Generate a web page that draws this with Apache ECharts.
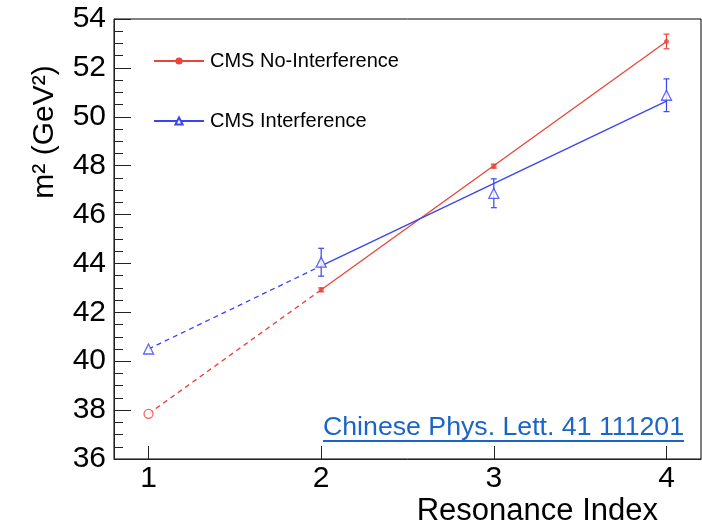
<!DOCTYPE html>
<html><head><meta charset="utf-8">
<script src="https://cdn.jsdelivr.net/npm/echarts@6/dist/echarts.min.js"></script>
<style>html,body{margin:0;padding:0;background:#fff}#c{width:702px;height:530px}</style>
</head><body><div id="c"></div>
<script>
// ---- data ----
const xTickValues = [1, 2, 3, 4];
const seriesNames = ['CMS No-Interference', 'CMS Interference'];
// measured points: [index, m^2, error]
const noIntPoints = [[2, 42.92, 0.08], [3, 47.98, 0.08], [4, 53.08, 0.30]];
const intPoints = [[2, 44.05, 0.57], [3, 46.87, 0.59], [4, 50.88, 0.67]];
// linear fits (solid) and extrapolations (dashed)
const noIntFit = [[2, 42.92], [4, 53.08]];
const noIntExtrap = [[1, 37.85], [2, 42.92]];
const intFit = [[2, 43.90], [4, 50.64]];
const intExtrap = [[1, 40.50], [2, 43.90]];
// predicted first resonance
const noIntPred = [[1, 37.85]];
const intPred = [[1, 40.50]];

const RED = '#ea4438';
const BLUE = '#3a44f0';
const FONT = '"Liberation Sans", Arial, Helvetica, sans-serif';

function errRender(color) {
  return function (params, api) {
    const x = api.value(0), y = api.value(1), e = api.value(2);
    const t = api.coord([x, y + e]), b = api.coord([x, y - e]);
    const w = 3;
    const st = { stroke: color, lineWidth: 1.2 };
    return { type: 'group', children: [
      { type: 'line', shape: { x1: t[0], y1: t[1], x2: b[0], y2: b[1] }, style: st },
      { type: 'line', shape: { x1: t[0] - w, y1: t[1], x2: t[0] + w, y2: t[1] }, style: st },
      { type: 'line', shape: { x1: b[0] - w, y1: b[1], x2: b[0] + w, y2: b[1] }, style: st }
    ]};
  };
}

const chart = echarts.init(document.getElementById('c'), null, { renderer: 'canvas' });
chart.setOption({
  animation: false,
  backgroundColor: '#fff',
  grid: { left: 114, top: 19, width: 587, height: 440, show: true, borderColor: '#000', borderWidth: 1, backgroundColor: 'transparent' },
  legend: {
    data: seriesNames,
    orient: 'vertical', left: 148, top: 45,
    itemWidth: 50, itemHeight: 9, itemGap: 38,
    selectedMode: false,
    textStyle: { fontSize: 20, fontFamily: FONT, color: '#000', padding: [0, 0, 0, 1], lineHeight: 22 }
  },
  xAxis: {
    type: 'value', min: 0.8, max: 4.2,
    axisLine: { show: true, lineStyle: { color: '#222', width: 1 } },
    axisTick: { show: true, inside: true, length: 13, customValues: xTickValues, lineStyle: { color: '#222' } },
    axisLabel: { customValues: xTickValues, fontSize: 30, fontFamily: FONT, color: '#000', margin: 5 },
    splitLine: { show: false }
  },
  yAxis: {
    type: 'value', min: 36, max: 54, interval: 2,
    axisLine: { show: true, lineStyle: { color: '#222', width: 1 } },
    axisTick: { show: true, inside: true, length: 17, lineStyle: { color: '#222' } },
    minorTick: { show: true, splitNumber: 4, length: 9, lineStyle: { color: '#222' } },
    axisLabel: { fontSize: 30, fontFamily: FONT, color: '#000', margin: 8 },
    splitLine: { show: false }
  },
  series: [
    { name: seriesNames[0], type: 'line', data: noIntFit, showSymbol: false, symbol: 'circle', symbolSize: 7,
      itemStyle: { color: RED }, lineStyle: { color: RED, width: 1.3 }, z: 2 },
    { name: 'noIntExtrap', type: 'line', data: noIntExtrap, showSymbol: false,
      lineStyle: { color: RED, width: 1.3, type: [5, 4] }, z: 2 },
    { name: seriesNames[1], type: 'line', data: intFit, showSymbol: false, symbol: 'emptyTriangle', symbolSize: 8,
      itemStyle: { color: BLUE }, lineStyle: { color: BLUE, width: 1.3 }, z: 2 },
    { name: 'intExtrap', type: 'line', data: intExtrap, showSymbol: false,
      lineStyle: { color: BLUE, width: 1.3, type: [5, 4] }, z: 2 },
    { name: 'noIntErr', type: 'custom', data: noIntPoints, encode: { x: 0, y: 1 }, renderItem: errRender(RED), z: 3 },
    { name: 'intErr', type: 'custom', data: intPoints, encode: { x: 0, y: 1 }, renderItem: errRender(BLUE), z: 3 },
    { name: 'noIntMarks', type: 'scatter', data: noIntPoints.map(p => [p[0], p[1]]), symbol: 'circle', symbolSize: 5,
      itemStyle: { color: RED }, z: 4 },
    { name: 'intMarks', type: 'scatter', data: intPoints.map(p => [p[0], p[1]]), symbol: 'triangle', symbolSize: 10,
      itemStyle: { color: '#fff', borderColor: BLUE, borderWidth: 1.3 }, z: 4 },
    { name: 'noIntPred', type: 'scatter', data: noIntPred, symbol: 'circle', symbolSize: 9,
      itemStyle: { color: '#fff', borderColor: RED, borderWidth: 1.3 }, z: 4 },
    { name: 'intPred', type: 'scatter', data: intPred, symbol: 'triangle', symbolSize: 10,
      itemStyle: { color: '#fff', borderColor: BLUE, borderWidth: 1.3 }, z: 4 }
  ],
  graphic: [
    { type: 'text', x: 658, y: 511, style: { text: 'Resonance Index', font: '31px ' + FONT, fill: '#000', textAlign: 'right', textVerticalAlign: 'middle' } },
    { type: 'text', x: 45, y: 132, rotation: Math.PI / 2, style: { text: 'm² (GeV²)', font: '30px ' + FONT, fill: '#000', textAlign: 'center', textVerticalAlign: 'middle' } },
    { type: 'text', x: 323, y: 428, style: { text: 'Chinese Phys. Lett. 41 111201', font: '26.7px ' + FONT, fill: '#1a66c8', textAlign: 'left', textVerticalAlign: 'middle' } },
    { type: 'line', shape: { x1: 323, y1: 441, x2: 684, y2: 441 }, style: { stroke: '#1a66c8', lineWidth: 2 } }
  ]
});
</script></body></html>
